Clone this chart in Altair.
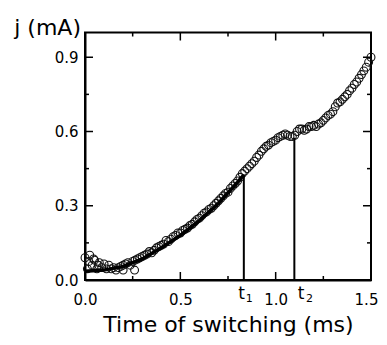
import altair as alt
import pandas as pd

# ---- data ----
time_ms = [0.0, 0.0125, 0.025, 0.0375, 0.05, 0.0625, 0.075, 0.0875, 0.1, 0.1125,
           0.125, 0.1375, 0.15, 0.1625, 0.175, 0.1875, 0.2, 0.2125, 0.225, 0.2375,
           0.25, 0.2625, 0.275, 0.2875, 0.3, 0.3125, 0.325, 0.3375, 0.35, 0.3625,
           0.375, 0.3875, 0.4, 0.4125, 0.425, 0.4375, 0.45, 0.4625, 0.475, 0.4875,
           0.5, 0.5125, 0.525, 0.5375, 0.55, 0.5625, 0.575, 0.5875, 0.6, 0.6125,
           0.625, 0.6375, 0.65, 0.6625, 0.675, 0.6875, 0.7, 0.7125, 0.725, 0.7375,
           0.75, 0.7625, 0.775, 0.7875, 0.8, 0.8125, 0.825, 0.8375, 0.85, 0.8625,
           0.875, 0.8875, 0.9, 0.9125, 0.925, 0.9375, 0.95, 0.9625, 0.975, 0.9875,
           1.0, 1.0125, 1.025, 1.0375, 1.05, 1.0625, 1.075, 1.0875, 1.1, 1.1125,
           1.125, 1.1375, 1.15, 1.1625, 1.175, 1.1875, 1.2, 1.2125, 1.225, 1.2375,
           1.25, 1.2625, 1.275, 1.2875, 1.3, 1.3125, 1.325, 1.3375, 1.35, 1.3625,
           1.375, 1.3875, 1.4, 1.4125, 1.425, 1.4375, 1.45, 1.4625, 1.475, 1.4875,
           1.5, 0.2, 0.26, 0.02, 0.045, 0.07]
current_mA = [0.09, 0.045, 0.10, 0.06, 0.08, 0.045, 0.07, 0.05, 0.065, 0.045,
              0.06, 0.045, 0.05, 0.04, 0.05, 0.055, 0.06, 0.065, 0.07, 0.06,
              0.075, 0.08, 0.085, 0.09, 0.095, 0.10, 0.105, 0.115, 0.11, 0.12,
              0.13, 0.135, 0.14, 0.145, 0.16, 0.155, 0.165, 0.175, 0.18, 0.19,
              0.19, 0.20, 0.205, 0.21, 0.22, 0.225, 0.235, 0.245, 0.25, 0.26,
              0.27, 0.275, 0.285, 0.29, 0.30, 0.31, 0.32, 0.33, 0.34, 0.35,
              0.355, 0.37, 0.38, 0.39, 0.40, 0.415, 0.43, 0.44, 0.45, 0.46,
              0.47, 0.48, 0.495, 0.505, 0.52, 0.53, 0.54, 0.545, 0.555, 0.56,
              0.565, 0.575, 0.58, 0.585, 0.59, 0.585, 0.58, 0.58, 0.585, 0.60,
              0.61, 0.61, 0.605, 0.61, 0.62, 0.62, 0.625, 0.62, 0.63, 0.635,
              0.645, 0.655, 0.665, 0.67, 0.68, 0.70, 0.715, 0.72, 0.73, 0.74,
              0.75, 0.765, 0.775, 0.79, 0.80, 0.815, 0.83, 0.845, 0.86, 0.88,
              0.90, 0.04, 0.04, 0.075, 0.085, 0.06]

fit_t = [0.0, 0.1, 0.2, 0.3, 0.4, 0.5, 0.6, 0.7, 0.8, 0.833]
fit_j = [0.035, 0.04, 0.055, 0.085, 0.13, 0.18, 0.24, 0.31, 0.395, 0.425]

marker_t = [0.833, 1.098]
marker_top = [0.425, 0.575]
label_t_x = [0.821, 1.133]
label_sub_x = [0.862, 1.177]
label_sub = ["1", "2"]

x_labels = [0.0, 0.5, 1.0, 1.5]
y_labels = [0.0, 0.3, 0.6, 0.9]
x_major = [0.5, 1.0]
x_minor = [0.25, 0.75, 1.25]
y_major = [0.3, 0.6, 0.9]
y_minor = [0.15, 0.45, 0.75]

W, H = 286, 247.5
FONT = "DejaVu Sans"
MAJ, MIN = 8, 4

xs = alt.Scale(domain=[0, 1.5], nice=False, zero=False)
ys = alt.Scale(domain=[0, 1.0], nice=False, zero=False)

x_axis = alt.Axis(
    values=x_labels, format=".1f", title="Time of switching (ms)",
    tickSize=0, labelPadding=12, labelFontSize=15, titleFontSize=22,
    titlePadding=7, grid=False, labelFont=FONT, titleFont=FONT, labelFlush=False,
    labelOffset={"condition": {"test": "datum.value == 1.5", "value": -5}, "value": 0},
    titleFontWeight="normal", labelColor="black", titleColor="black",
    domainColor="black", domainWidth=2)
y_axis = alt.Axis(
    values=y_labels, format=".1f", title=None, tickSize=0, labelPadding=7,
    labelFontSize=15, grid=False, labelFont=FONT, labelColor="black", labelFlush=False,
    domainColor="black", domainWidth=2)


def X(field):
    return alt.X(field, scale=xs, axis=x_axis)


def Y(field):
    return alt.Y(field, scale=ys, axis=y_axis)


points = alt.Chart(pd.DataFrame({"t": time_ms, "j": current_mA})).mark_point(
    shape="circle", filled=False, size=62, color="#111111", strokeWidth=1.1, opacity=1
).encode(x=X("t:Q"), y=Y("j:Q"))

fit = alt.Chart(pd.DataFrame({"t": fit_t, "j": fit_j})).mark_line(
    color="black", strokeWidth=3.5
).encode(x=X("t:Q"), y=Y("j:Q"))

markers = alt.Chart(pd.DataFrame({"t": marker_t, "j": marker_top})).mark_rule(
    color="black", strokeWidth=2
).encode(x=X("t:Q"), y=Y("j:Q"), y2=alt.value(H))

t_letters = alt.Chart(pd.DataFrame({"t": label_t_x})).mark_text(
    text="t", font=FONT, fontSize=17, baseline="alphabetic", align="center", color="black"
).encode(x=X("t:Q"), y=alt.value(H + 19))

t_subs = alt.Chart(pd.DataFrame({"t": label_sub_x, "s": label_sub})).mark_text(
    font=FONT, fontSize=11, baseline="alphabetic", align="center", color="black"
).encode(x=X("t:Q"), y=alt.value(H + 22), text="s:N")

ylab = alt.Chart(pd.DataFrame({"a": [0]})).mark_text(
    text="j (mA)", font=FONT, fontSize=22, baseline="alphabetic", align="right", color="black"
).encode(x=alt.value(-4), y=alt.value(2.5))


def xticks(vals, length, side):
    df = pd.DataFrame({"t": vals})
    y0 = H if side == "bottom" else 0
    y1 = H - length if side == "bottom" else length
    return alt.Chart(df).mark_rule(color="black", strokeWidth=1.5).encode(
        x=X("t:Q"), y=alt.value(y0), y2=alt.value(y1))


def yticks(vals, length, side):
    df = pd.DataFrame({"j": vals})
    x0 = 0 if side == "left" else W
    x1 = length if side == "left" else W - length
    return alt.Chart(df).mark_rule(color="black", strokeWidth=1.5).encode(
        y=Y("j:Q"), x=alt.value(x0), x2=alt.value(x1))


tick_layers = [
    xticks(x_major, MAJ, "bottom"), xticks(x_minor, MIN, "bottom"),
    xticks(x_major, MAJ, "top"), xticks(x_minor, MIN, "top"),
    yticks(y_major, MAJ, "left"), yticks(y_minor, MIN, "left"),
    yticks(y_major, MAJ, "right"), yticks(y_minor, MIN, "right"),
]

chart = alt.layer(points, fit, markers, t_letters, t_subs, ylab, *tick_layers).properties(
    width=W, height=H,
    autosize=alt.AutoSizeParams(type="none"),
    padding={"left": 77, "top": 24.5, "right": 8, "bottom": 56},
    background="white",
).configure_view(stroke="black", strokeWidth=2)

chart.save("out.html", embed_options={"renderer": "svg", "actions": False})
